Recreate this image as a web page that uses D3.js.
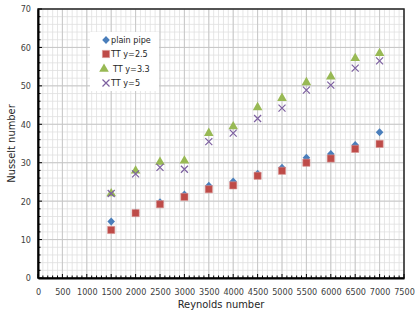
<!DOCTYPE html>
<html><head><meta charset="utf-8">
<script src="https://cdn.jsdelivr.net/npm/d3@7"></script>
<style>
body{margin:0;background:#fff;}
text{font-family:"Liberation Sans Narrow","DejaVu Sans Condensed","Liberation Sans",sans-serif;}
</style></head>
<body><svg id="c" width="417" height="316"></svg>
<script>
const reynolds = [1500,2000,2500,3000,3500,4000,4500,5000,5500,6000,6500,7000];
const plainPipe = [14.7,17.0,19.7,21.7,24.0,25.1,27.1,28.7,31.3,32.3,34.6,37.9];
const tt25 = [12.5,16.9,19.2,21.1,23.1,24.1,26.6,27.9,30.0,31.1,33.6,34.9];
const tt33 = [22.0,27.9,30.2,30.5,37.7,39.4,44.4,46.8,50.9,52.4,57.2,58.5];
const tt5  = [22.0,27.1,28.8,28.3,35.5,37.7,41.5,44.2,48.9,50.2,54.6,56.5];
const seriesNames = ["plain pipe","TT y=2.5","TT y=3.3","TT y=5"];
const xTicks = d3.range(0,7501,500);
const yTicks = d3.range(0,71,10);

const svg = d3.select("#c");
const L=38,R=404,T=9,B=278;
const x = d3.scaleLinear().domain([0,7500]).range([L,R]);
const y = d3.scaleLinear().domain([0,70]).range([B,T]);

// minor grid
const g = svg.append("g");
g.selectAll(".vm").data(d3.range(0,7501,100)).join("line")
 .attr("x1",d=>x(d)).attr("x2",d=>x(d)).attr("y1",T).attr("y2",B)
 .attr("stroke","#e0e0e0").attr("stroke-width",0.8);
g.selectAll(".hm").data(d3.range(0,71,2)).join("line")
 .attr("y1",d=>y(d)).attr("y2",d=>y(d)).attr("x1",L).attr("x2",R)
 .attr("stroke","#e0e0e0").attr("stroke-width",0.8);
// major grid
g.selectAll(".vM").data(xTicks).join("line")
 .attr("x1",d=>x(d)).attr("x2",d=>x(d)).attr("y1",T).attr("y2",B)
 .attr("stroke","#c4c4c4").attr("stroke-width",0.9);
g.selectAll(".hM").data(yTicks).join("line")
 .attr("y1",d=>y(d)).attr("y2",d=>y(d)).attr("x1",L).attr("x2",R)
 .attr("stroke","#c4c4c4").attr("stroke-width",0.9);

// border
svg.append("rect").attr("x",L).attr("y",T).attr("width",R-L).attr("height",B-T)
 .attr("fill","none").attr("stroke","#262626").attr("stroke-width",1.5);

// axes with inside ticks
const xAxis = svg.append("g").attr("transform",`translate(0,${B})`)
 .call(d3.axisBottom(x).tickValues(xTicks).tickSize(0).tickPadding(11).tickFormat(d3.format("d")));
xAxis.select(".domain").attr("stroke","#000").attr("stroke-width",2);
xAxis.selectAll("text").attr("font-size","9px").attr("fill","#404040");
svg.append("g").selectAll("line").data(d3.range(0,7501,100)).join("line")
 .attr("x1",d=>x(d)).attr("x2",d=>x(d)).attr("y1",B)
 .attr("y2",d=>B-(d%500===0?4:2.5)).attr("stroke","#000").attr("stroke-width",1);

const yAxis = svg.append("g").attr("transform",`translate(${L},0)`)
 .call(d3.axisLeft(y).tickValues(yTicks).tickSize(0).tickPadding(7));
yAxis.select(".domain").attr("stroke","#000").attr("stroke-width",2);
yAxis.selectAll("text").attr("font-size","9px").attr("fill","#404040");
svg.append("g").selectAll("line").data(d3.range(0,71,2)).join("line")
 .attr("y1",d=>y(d)).attr("y2",d=>y(d)).attr("x1",L)
 .attr("x2",d=>L+(d%10===0?4:2.5)).attr("stroke","#000").attr("stroke-width",1);

// titles
svg.append("text").attr("x",(L+R)/2).attr("y",308).attr("text-anchor","middle")
 .attr("font-size","11px").attr("fill","#262626").text("Reynolds number");
svg.append("text").attr("transform",`translate(15,${(T+B)/2}) rotate(-90)`).attr("text-anchor","middle")
 .attr("font-size","11px").attr("fill","#262626").text("Nusselt number");

// markers
const colors = ["#4a7ebb","#be4b48","#98b954","#7d60a0"];
function drawMarker(sel, i){
  if(i===0){
    sel.append("path").attr("d","M0,-4L3.8,0L0,4L-3.8,0Z").attr("fill",colors[0]);
  } else if(i===1){
    sel.append("path").attr("d",d3.symbol().type(d3.symbolSquare).size(52)())
      .attr("fill",colors[1]).attr("stroke","#d99694").attr("stroke-width",0.6);
  } else if(i===2){
    sel.append("path").attr("d",d3.symbol().type(d3.symbolTriangle).size(40)()).attr("fill",colors[2]);
  } else {
    sel.append("path").attr("d","M-3.5,-3.5L3.5,3.5M-3.5,3.5L3.5,-3.5")
      .attr("stroke",colors[3]).attr("stroke-width",1.2).attr("fill","none");
  }
}
const allSeries = [plainPipe, tt25, tt33, tt5];
allSeries.forEach((vals,i)=>{
  const gg = svg.append("g");
  vals.forEach((v,j)=>{
    const m = gg.append("g").attr("transform",`translate(${x(reynolds[j])},${y(v)})`);
    drawMarker(m,i);
  });
});

// legend
const lg = svg.append("g");
lg.append("rect").attr("x",90).attr("y",32).attr("width",69).attr("height",59).attr("fill","#fff");
const legY = [40,54,69,83];
seriesNames.forEach((n,i)=>{
  const m = lg.append("g").attr("transform",`translate(${i===2?104:106},${legY[i]})`);
  drawMarker(m,i);
  lg.append("text").attr("x",i===2?113:111).attr("y",legY[i]+3).attr("font-size","9px")
   .attr("fill","#262626").text(n);
});
</script></body></html>
